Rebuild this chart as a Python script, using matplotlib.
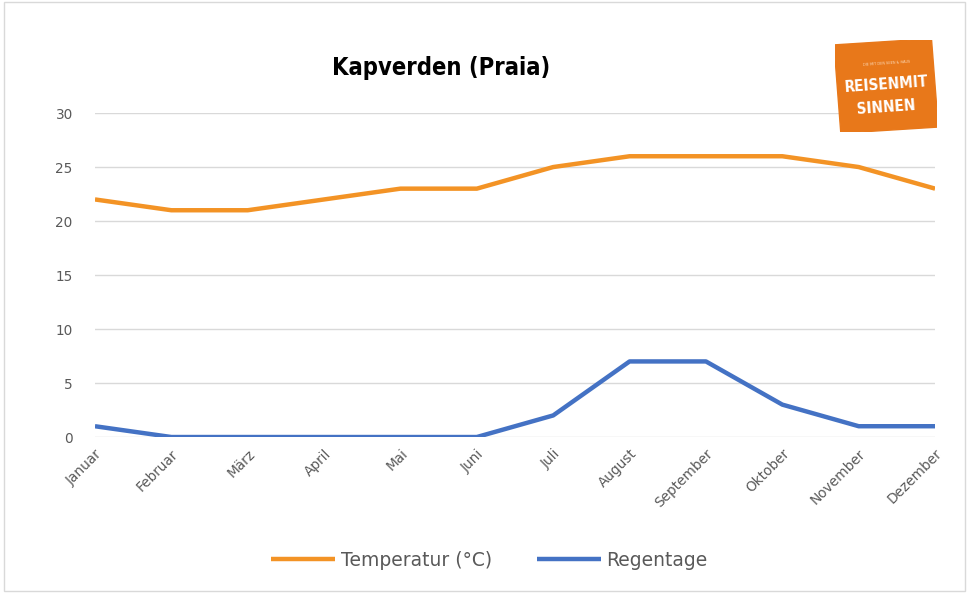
import matplotlib.pyplot as plt
import matplotlib.patches as mpatches
import matplotlib.transforms as mtransforms

# daten
monate = ['Januar', 'Februar', 'März', 'April', 'Mai', 'Juni', 'Juli',
          'August', 'September', 'Oktober', 'November', 'Dezember']
temperatur = [22, 21, 21, 22, 23, 23, 25, 26, 26, 26, 25, 23]
regentage = [1, 0, 0, 0, 0, 0, 2, 7, 7, 3, 1, 1]
y_ticks = [0, 5, 10, 15, 20, 25, 30]

ORANGE = '#F39325'
BLAU = '#4472C4'
GRAU = '#595959'


def main() -> None:
    fig = plt.figure(figsize=(9.69, 5.95), dpi=100)
    ax = fig.add_axes([0.098, 0.2655, 0.867, 0.5445])

    x = list(range(len(monate)))
    ax.plot(x, temperatur, color=ORANGE, lw=3.2, label='Temperatur (°C)',
            solid_capstyle='butt', zorder=3)
    ax.plot(x, regentage, color=BLAU, lw=3.2, label='Regentage',
            solid_capstyle='butt', zorder=3)

    ax.set_xlim(0, len(monate) - 1)
    ax.set_ylim(0, 30)
    ax.set_yticks(y_ticks)
    ax.set_xticks(x)
    ax.set_xticklabels(monate, rotation=45, ha='right', va='top',
                       rotation_mode='anchor', fontsize=9.8, color=GRAU)
    ax.tick_params(axis='y', labelsize=9.8, colors=GRAU, length=0, pad=16)
    ax.tick_params(axis='x', length=0, pad=7)
    ax.grid(axis='y', color='#D9D9D9', lw=1)
    ax.set_axisbelow(True)
    for s in ax.spines.values():
        s.set_visible(False)

    fig.text(0.455, 0.885, 'Kapverden (Praia)', ha='center', va='center',
             fontsize=17, fontweight='bold', family='DejaVu Sans',
             fontstretch='condensed', color='black')

    leg = fig.legend(loc='center', bbox_to_anchor=(0.505, 0.058), ncol=2,
                     frameon=False, fontsize=13.5, handlelength=3.4,
                     columnspacing=2.4, handletextpad=0.3)
    for t in leg.get_texts():
        t.set_color(GRAU)

    # rahmen
    fig.add_artist(mpatches.Rectangle((0.004, 0.006), 0.992, 0.99,
                                      transform=fig.transFigure, fill=False,
                                      edgecolor='#D9D9D9', lw=1))

    # logo
    logo_ax = fig.add_axes([0.862, 0.778, 0.105, 0.155])
    logo_ax.set_xlim(0, 1)
    logo_ax.set_ylim(0, 1)
    logo_ax.axis('off')
    rot = mtransforms.Affine2D().rotate_deg_around(0.5, 0.5, 4) + logo_ax.transData
    logo_ax.add_patch(mpatches.Rectangle((0.02, 0.02), 0.96, 0.96,
                                         color='#E8781A', transform=rot))
    logo_ax.text(0.5, 0.74, 'DIE MIT DEN SEEN & HAUS', ha='center', va='center',
                 fontsize=2.5, color='#FBD9B8', rotation=4)
    logo_ax.text(0.5, 0.52, 'REISENMIT', ha='center', va='center', fontsize=11,
                 color='white', fontweight='bold', fontstretch='condensed',
                 rotation=4)
    logo_ax.text(0.5, 0.27, 'SINNEN', ha='center', va='center', fontsize=11,
                 color='white', fontweight='bold', fontstretch='condensed',
                 rotation=4)

    fig.savefig('out.png', dpi=100)


if __name__ == "__main__":
    main()
